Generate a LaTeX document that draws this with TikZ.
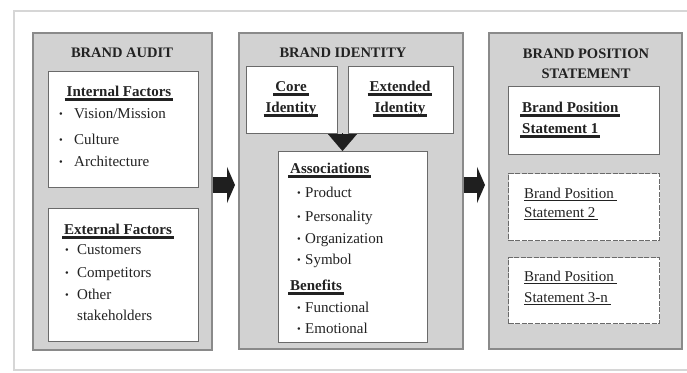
\documentclass[tikz,border=0pt]{standalone}
\usepackage{fontspec}
\setmainfont{Liberation Serif}
\usetikzlibrary{arrows.meta}

\definecolor{panelgray}{HTML}{D2D2D2}
\definecolor{paneledge}{HTML}{8A8A8A}
\definecolor{boxedge}{HTML}{6A6A6A}
\definecolor{framegray}{HTML}{D6D6D6}
\definecolor{inkgray}{HTML}{222222}

% heavy and thin underline, fixed below the baseline
\newcommand{\hul}[1]{\setbox0=\hbox{#1}\rlap{\kern-2pt\vrule height -2pt depth 5pt width \dimexpr\wd0+4pt\relax}\box0}
\newcommand{\tul}[1]{\setbox0=\hbox{#1}\rlap{\vrule height -2pt depth 2.9pt width \dimexpr\wd0+3pt\relax}\box0}
\newcommand{\bul}[1]{\makebox[#1][l]{\raisebox{0.8pt}{\fontsize{10.5}{10}\selectfont\textbullet}}}

\begin{document}
\begin{tikzpicture}[x=1pt,y=-1pt,
  panel/.style={draw=paneledge,line width=1.8pt,fill=panelgray,anchor=north west,inner sep=0pt},
  wbox/.style={draw=boxedge,line width=1.3pt,fill=white,anchor=north west,inner sep=0pt},
  dbox/.style={wbox,dash pattern=on 5pt off 1.5pt},
  ttl/.style={font=\fontsize{14.5}{20}\selectfont\bfseries,text=inkgray,align=center,inner sep=0pt},
  hd/.style={font=\fontsize{15}{18}\selectfont\bfseries,text=inkgray,inner sep=0pt},
  txt/.style={font=\fontsize{15}{18}\selectfont,text=inkgray,inner sep=0pt,anchor=base west},
  bigarrow/.style={line width=16pt,draw=black!88,-{Triangle[length=8pt,width=36pt]}},
  downtip/.style={line width=0.1pt,draw=black!88,fill=black!88,-{Triangle[length=17pt,width=29pt]}}]

\useasboundingbox (0,0) rectangle (687,372);

\draw[framegray,line width=1.2pt] (687,11) -- (14,11) -- (14,370) -- (687,370);

% panels
\node[panel,minimum width=179pt,minimum height=317pt] (audit) at (32,32) {};
\node[panel,minimum width=224pt,minimum height=316pt] (identity) at (238,32) {};
\node[panel,minimum width=193pt,minimum height=316pt] (position) at (488,32) {};

\node[ttl,anchor=base] (auditttl) at (122,57) {BRAND AUDIT};
\node[ttl,anchor=base] (identttl) at (343,57) {BRAND IDENTITY};
\node[ttl] (posttl) at (586,64) {BRAND POSITION\\STATEMENT};

% brand audit
\node[wbox,minimum width=150pt,minimum height=116pt] (internal) at (48,71) {};
\node[wbox,minimum width=150pt,minimum height=133pt] (external) at (48,208) {};

\node[hd,anchor=base] (inthd) at (119,96) {\hul{Internal Factors}};
\foreach \y/\t [count=\i] in {118/{Vision/Mission},144/Culture,166/Architecture}
  \node[txt] (int\i) at (59,\y) {\bul{15pt}\t};

\node[hd,anchor=base] (exthd) at (118,234) {\hul{External Factors}};
\foreach \y/\t [count=\i] in {254/Customers,277/Competitors,299/Other}
  \node[txt] (ext\i) at (65,\y) {\bul{12pt}\t};
\node[txt] (ext4) at (77,320) {stakeholders};

% brand identity
\node[wbox,minimum width=91pt,minimum height=67pt] (core) at (246,66) {};
\node[wbox,minimum width=105pt,minimum height=67pt] (extended) at (348,66) {};
\node[wbox,minimum width=149pt,minimum height=191pt] (assoc) at (278,151) {};

\node[hd,anchor=base] (core1) at (291,91) {\hul{Core}};
\node[hd,anchor=base] (core2) at (291,112) {\hul{Identity}};
\node[hd,anchor=base] (extd1) at (400,91) {\hul{Extended}};
\node[hd,anchor=base] (extd2) at (400,112) {\hul{Identity}};

\node[hd,anchor=base west] (assochd) at (290,173) {\hul{Associations}};
\foreach \y/\t [count=\i] in {197/Product,221/Personality,243/Organization,264/Symbol}
  \node[txt] (asc\i) at (297,\y) {\bul{8pt}\t};
\node[hd,anchor=base west] (benhd) at (290,290) {\hul{Benefits}};
\foreach \y/\t [count=\i] in {312/Functional,333/Emotional}
  \node[txt] (ben\i) at (297,\y) {\bul{8pt}\t};

\coordinate (joint) at (342.5,133);
\draw[downtip] (joint) -- (joint |- assoc.north);

% brand position statement
\node[wbox,minimum width=151pt,minimum height=68pt] (bps1) at (508,86) {};
\node[dbox,minimum width=151pt,minimum height=67pt] (bps2) at (508,173) {};
\node[dbox,minimum width=151pt,minimum height=66pt] (bps3) at (508,257) {};

\node[hd,anchor=base west] (bpsa1) at (522,112) {\hul{Brand Position}};
\node[hd,anchor=base west] (bpsb1) at (522,133) {\hul{Statement 1}};
\node[txt] (bpsa2) at (524,198) {\tul{Brand Position}};
\node[txt] (bpsb2) at (524,217) {\tul{Statement 2}};
\node[txt] (bpsa3) at (524,281) {\tul{Brand Position}};
\node[txt] (bpsb3) at (524,302) {\tul{Statement 3-n}};

% flow arrows
\coordinate (arrowlevel) at (0,185);
\draw[bigarrow,shorten >=3pt] (audit.east |- arrowlevel) -- (identity.west |- arrowlevel);
\draw[bigarrow,shorten >=3pt] (identity.east |- arrowlevel) -- (position.west |- arrowlevel);

\end{tikzpicture}
\end{document}
